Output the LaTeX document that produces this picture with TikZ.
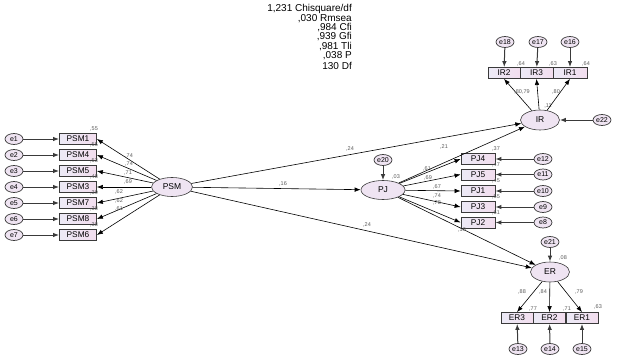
\documentclass[tikz,border=0pt]{standalone}
\usepackage{fontspec}
\setmainfont{Liberation Sans}
\usetikzlibrary{shapes.geometric,arrows.meta}
\definecolor{latfill}{HTML}{EFE4F2}
\definecolor{obsL}{HTML}{ECEAF6}
\definecolor{obsR}{HTML}{F2DDEE}
\definecolor{edge}{HTML}{3A3A3A}
\definecolor{lab}{HTML}{5A5A5A}
\tikzset{
  lat/.style={ellipse,draw=edge,line width=0.6pt,fill=latfill,minimum width=41pt,minimum height=19pt,inner sep=0pt,font=\fontsize{8.5}{9}\selectfont},
  err/.style={ellipse,draw=edge,line width=0.7pt,fill=latfill,minimum width=18pt,minimum height=11pt,inner sep=0pt,font=\fontsize{7}{7}\selectfont},
  obs/.style={rectangle,draw=edge,line width=0.8pt,left color=obsL,right color=obsR,minimum width=37pt,minimum height=11pt,inner sep=0pt,font=\fontsize{8.3}{8.5}\selectfont},
  arr/.style={-{Latex[length=6pt,width=4.5pt]},black,line width=0.6pt},
  earr/.style={-{Latex[length=6pt,width=4.5pt]},edge,line width=1pt},
  num/.style={font=\fontsize{5.5}{6}\selectfont,text=lab,inner sep=0pt},
  stat/.style={font=\fontsize{10}{10}\selectfont,anchor=east,inner sep=0pt}
}
\begin{document}
\begin{tikzpicture}[x=1pt,y=-1pt]
\useasboundingbox (0,0) rectangle (624,361);
% stats
\node[stat] (s1) at (352,9) {1,231 Chisquare/df};
\node[stat] (s2) at (352,18.5) {,030 Rmsea};
\node[stat] (s3) at (352,28) {,984 Cfi};
\node[stat] (s4) at (352,37) {,939 Gfi};
\node[stat] (s5) at (352,46.5) {,981 Tli};
\node[stat] (s6) at (352,56) {,038 P};
\node[stat] (s7) at (352,65.5) {130 Df};
% PSM block
\node[lat] (PSM) at (172,187) {PSM};
\foreach \n/\e/\y/\r/\l/\lx/\ly in {PSM1/e1/139/{,55}/{,74}/129/156, PSM4/e2/155/{,55}/{,74}/129/164, PSM5/e3/171/{,53}/{,71}/128/173, PSM3/e4/187/{,48}/{,69}/128/182, PSM7/e5/203/{,39}/{,62}/119/192, PSM8/e6/219/{,38}/{,62}/119/201, PSM6/e7/235/{,38}/{,61}/119/209}{
  \node[obs] (\n) at (78,\y) {\n};
  \node[err] (\e) at (14,\y) {\e};
  \draw[earr] (\e) -- (\n);
  \draw[arr] (PSM) -- (\n.east);
  \node[num] (r\n) at (94,\y-10) {\r};
  \node[num] (l\n) at (\lx,\ly) {\l};
}
% PJ block
\node[lat,minimum width=44pt] (PJ) at (383,190) {PJ};
\node[err] (e20) at (383,160) {e20};
\draw[earr] (e20) -- (PJ);
\node[num] (rPJ) at (396,177) {,03};
\foreach \n/\e/\y/\r/\l/\lx/\ly in {PJ4/e12/159/{,37}/{,61}/427/169, PJ5/e11/174.5/{,47}/{,69}/428/178, PJ1/e10/191/{,45}/{,67}/437/187, PJ3/e9/207/{,55}/{,74}/437/196, PJ2/e8/222.5/{,61}/{,78}/437/203}{
  \node[obs,minimum width=34pt] (\n) at (478,\y) {\n};
  \node[err] (\e) at (543,\y) {\e};
  \draw[earr] (\e) -- (\n);
  \draw[arr] (PJ) -- (\n.west);
  \node[num] (r\n) at (496,\y-10) {\r};
  \node[num] (l\n) at (\lx,\ly) {\l};
}
% IR block
\node[lat,minimum width=39pt,minimum height=20pt] (IR) at (540,120) {IR};
\node[err] (e22) at (602,120) {e22};
\draw[earr] (e22) -- (IR);
\node[num] (rIR) at (548,106) {,11};
\node[obs,minimum width=32pt] (IR2) at (504,73) {IR2};
\node[obs,minimum width=33pt] (IR3) at (536.5,73) {IR3};
\node[obs,minimum width=34pt] (IR1) at (570,73) {IR1};
\node[err] (e18) at (505,42) {e18};
\node[err] (e17) at (538,42) {e17};
\node[err] (e16) at (570,42) {e16};
\draw[earr] (e18) -- (IR2);
\draw[earr] (e17) -- (IR3);
\draw[earr] (e16) -- (IR1);
\draw[arr] (IR) -- (IR2.south);
\draw[arr] (IR) -- (IR3.south);
\draw[arr] (IR) -- (IR1.south);
\node[num] (rIR2) at (521,64) {,64};
\node[num] (rIR3) at (553,64) {,63};
\node[num] (rIR1) at (586,64) {,64};
\node[num] (lIR23) at (522,92) {,80,79};
\node[num] (lIR1) at (556,92) {,80};
% ER block
\node[lat,minimum width=39pt,minimum height=20pt] (ER) at (550,272) {ER};
\node[err] (e21) at (550,242) {e21};
\draw[earr] (e21) -- (ER);
\node[num] (rER) at (563,258) {,08};
\node[obs,minimum width=32pt] (ER3) at (517,318) {ER3};
\node[obs,minimum width=32pt] (ER2) at (549.5,318) {ER2};
\node[obs,minimum width=32pt] (ER1) at (582,318) {ER1};
\node[err] (e13) at (518,349) {e13};
\node[err] (e14) at (550,349) {e14};
\node[err] (e15) at (582,349) {e15};
\draw[earr] (e13) -- (ER3);
\draw[earr] (e14) -- (ER2);
\draw[earr] (e15) -- (ER1);
\draw[arr] (ER) -- (ER3.north);
\draw[arr] (ER) -- (ER2.north);
\draw[arr] (ER) -- (ER1.north);
\node[num] (lER3) at (522,292) {,88};
\node[num] (lER2) at (543,292) {,84};
\node[num] (lER1) at (579,292) {,79};
\node[num] (rER3) at (533,309) {,77};
\node[num] (rER2) at (567,309) {,71};
\node[num] (rER1) at (598,307) {,63};
% structural paths
\draw[arr] (PSM) -- (IR);
\draw[arr] (PSM) -- (PJ);
\draw[arr] (PSM) -- (ER);
\draw[arr] (PJ) -- (IR);
\draw[arr] (PJ) -- (ER);
\node[num] (pIR) at (350,149) {,24};
\node[num] (pPJ) at (283,184) {,16};
\node[num] (pER) at (367,225) {,24};
\node[num] (pPJIR) at (444,147) {,21};
\node[num] (pPJER) at (462,230) {,10};
\end{tikzpicture}
\end{document}
